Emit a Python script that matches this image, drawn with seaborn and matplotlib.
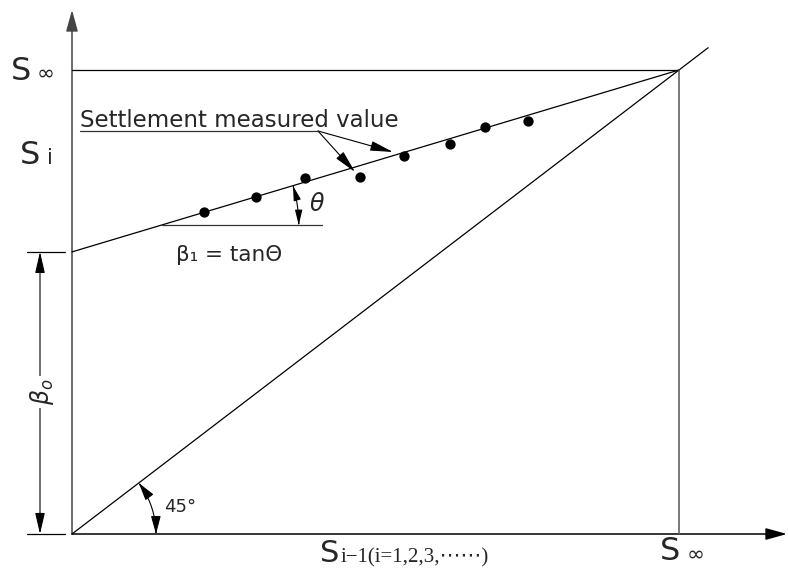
import numpy as np
import pandas as pd
import seaborn as sns
import matplotlib
matplotlib.use("Agg")
import matplotlib.pyplot as plt
from matplotlib.patches import FancyArrowPatch
from matplotlib.path import Path

# ---- data (normalised: S_inf = 1 on both axes) ----
s_inf = 1.0
beta0 = 0.608          # intercept of the regression line
beta1 = 0.392          # slope (tan theta)
x_meas = [0.217, 0.303, 0.384, 0.474, 0.547, 0.623, 0.680, 0.751]
y_meas = [0.694, 0.726, 0.767, 0.769, 0.815, 0.841, 0.877, 0.890]
diag_end = 1.048
labels = {"s_inf": "∞", "si": "i", "xsub": "i\u22121(i=1,2,3,\u22ef\u22ef)",
          "meas": "Settlement measured value", "beta1": "β\u2081 = tanΘ",
          "theta": "θ", "angle45": "45°"}

sns.set_style("white")
plt.rcParams["font.family"] = ["DejaVu Sans"]

fig = plt.figure(figsize=(7.88, 5.70), dpi=100)
ax = fig.add_axes([0, 0, 1, 1])
ax.set_xlim(-72 / 607, 716 / 607)
ax.set_ylim(-36 / 464, 534 / 464)
ax.axis("off")

SX, SY = 607.0, 464.0   # pixels per data unit


def P(px, py):
    return ((px - 72) / SX, (534 - py) / SY)


lw = 0.9
# regression line
xr = np.array([0.0, s_inf])
reg = pd.DataFrame({"x": xr, "y": beta0 + beta1 * xr})
sns.lineplot(data=reg, x="x", y="y", color="black", lw=lw, ax=ax)
# 45 deg line
diag = pd.DataFrame({"x": [0.0, diag_end], "y": [0.0, diag_end]})
sns.lineplot(data=diag, x="x", y="y", color="black", lw=lw, ax=ax)
# S_inf horizontal & vertical
ax.plot([0, s_inf], [s_inf, s_inf], color="black", lw=lw)
ax.plot([s_inf, s_inf], [0, s_inf], color="#555555", lw=1.1)

# measured points
pts = pd.DataFrame({"x": x_meas, "y": y_meas})
sns.scatterplot(data=pts, x="x", y="y", color="black", s=55, marker="o",
                edgecolor="black", linewidth=0, ax=ax, zorder=5)
ax.set_xlabel("")
ax.set_ylabel("")

# axes with arrows
ax.add_patch(FancyArrowPatch(P(72, 534), P(72, 10), arrowstyle="-|>,head_length=1.3,head_width=0.36",
                             mutation_scale=10, color="#444444", lw=1.1, shrinkA=0, shrinkB=0))
ax.add_patch(FancyArrowPatch(P(72, 534), P(787, 534), arrowstyle="-|>,head_length=1.3,head_width=0.36",
                             mutation_scale=10, color="black", lw=1.1, shrinkA=0, shrinkB=0))

# theta construction
y_h = P(0, 225)[1]
x_int = (y_h - beta0) / beta1
ax.plot([x_int, P(322, 0)[0]], [y_h, y_h], color="#333333", lw=lw)
r = 137
ang = np.arctan((beta1 * SY) / SX)
t = np.linspace(ang, 0, 40)
arc_pts = np.column_stack([x_int + r * np.cos(t) / SX, y_h + r * np.sin(t) / SY])
ax.add_patch(FancyArrowPatch(path=Path(arc_pts), arrowstyle="<|-|>,head_length=0.9,head_width=0.22",
                             mutation_scale=10, color="black", lw=0.8))

# 45 deg arc
a45 = np.arctan(SY / SX)
r2 = 84
t2 = np.linspace(a45, 0, 40)
arc2 = np.column_stack([r2 * np.cos(t2) / SX, r2 * np.sin(t2) / SY])
ax.add_patch(FancyArrowPatch(path=Path(arc2), arrowstyle="<|-|>,head_length=1.1,head_width=0.3",
                             mutation_scale=10, color="black", lw=0.8))

# beta0 dimension
ax.plot([P(27, 0)[0], P(65, 0)[0]], [beta0, beta0], color="black", lw=lw)
ax.plot([P(27, 0)[0], P(65, 0)[0]], [0, 0], color="black", lw=lw)
xd = P(40, 0)[0]
ax.add_patch(FancyArrowPatch((xd, 0), (xd, beta0), arrowstyle="<|-|>,head_length=1.3,head_width=0.3",
                             mutation_scale=10, color="black", lw=0.8, shrinkA=0, shrinkB=0))
ax.text(*P(42, 392), r"$\beta_o$", rotation=90, ha="center", va="center", fontsize=17,
        bbox=dict(facecolor="white", edgecolor="none", pad=2), zorder=6)

# settlement measured value annotation
ax.plot([P(80, 0)[0], P(318, 0)[0]], [P(0, 131)[1]] * 2, color="#333333", lw=lw)
for tip in [(393, 152), (355, 172)]:
    ax.add_patch(FancyArrowPatch(P(318, 131), P(*tip), arrowstyle="-|>,head_length=1.4,head_width=0.3",
                                 mutation_scale=10, color="black", lw=0.8, shrinkA=0, shrinkB=0))
ax.text(*P(80, 127), labels["meas"], ha="left", va="baseline", fontsize=16.5)

# labels
ax.text(*P(176, 255), labels["beta1"], ha="left", va="center", fontsize=15.5)
ax.text(*P(317, 204), labels["theta"], ha="center", va="center", fontsize=17, style="italic")
ax.text(*P(180, 507), labels["angle45"], ha="center", va="center", fontsize=13)

ax.text(*P(21, 71), "S", ha="center", va="center", fontsize=23)
ax.text(*P(46, 74), labels["s_inf"], ha="center", va="center", fontsize=15.5)
ax.text(*P(30, 155), "S", ha="center", va="center", fontsize=23)
ax.text(*P(50, 158), labels["si"], ha="center", va="center", fontsize=15)

ax.text(*P(330, 554), "S", ha="center", va="center", fontsize=22)
ax.text(*P(341, 558), labels["xsub"], ha="left", va="center", fontsize=15,
        family=["Liberation Serif", "DejaVu Sans"])
ax.text(*P(670, 552), "S", ha="center", va="center", fontsize=23)
ax.text(*P(696, 555), labels["s_inf"], ha="center", va="center", fontsize=15.5)

fig.savefig("out.png", dpi=100)
